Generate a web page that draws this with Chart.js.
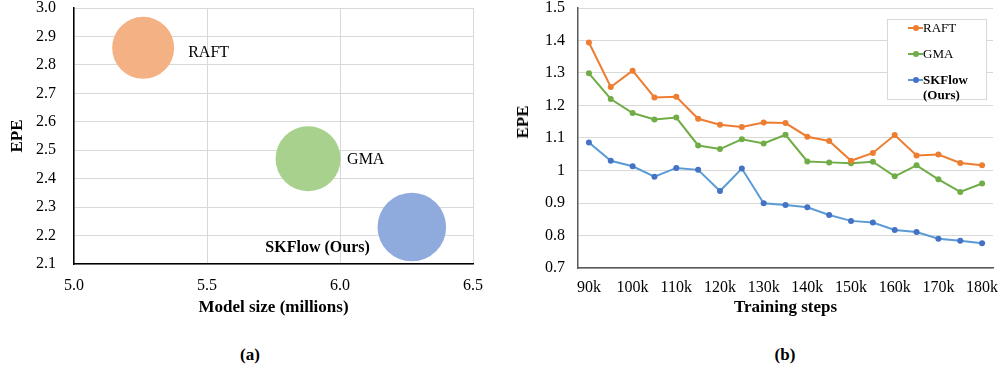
<!DOCTYPE html>
<html>
<head>
<meta charset="utf-8">
<script src="https://cdn.jsdelivr.net/npm/chart.js@4.4.1/dist/chart.umd.min.js"></script>
<style>
  html, body { margin: 0; padding: 0; background: #fff; }
  body { width: 1002px; height: 368px; position: relative; overflow: hidden; font-family: "Liberation Serif", "Times New Roman", serif; color: #000; }
  #wrapA { position: absolute; left: 0; top: 0; width: 500px; height: 330px; }
  #wrapB { position: absolute; left: 500px; top: 0; width: 502px; height: 330px; }
  .cap { position: absolute; top: 345px; font-weight: bold; font-size: 17px; line-height: 20px; width: 60px; margin-left: -30px; text-align: center; }
  #epeB { position: absolute; left: 523px; top: 122px; font-weight: bold; font-size: 17px; line-height: 20px; white-space: nowrap; transform: translate(-50%, -50%) rotate(-90deg); }
  #legend { position: absolute; left: 887px; top: 19px; width: 98px; height: 79px; border: 1px solid #d9d9d9; background: #fff; font-size: 13px; }
  .li { position: absolute; left: 20px; white-space: nowrap; line-height: 15px; }
  .mk { position: absolute; left: 0; width: 15px; height: 2px; top: 7px; }
  .mk i { position: absolute; left: 5px; top: -2px; width: 6px; height: 6px; border-radius: 50%; }
  .lt { position: absolute; left: 15px; top: 0; }
</style>
</head>
<body>
<div id="wrapA"><canvas id="chartA" width="500" height="330"></canvas></div>
<div id="wrapB"><canvas id="chartB" width="502" height="330"></canvas></div>
<div class="cap" style="left:250px">(a)</div>
<div class="cap" style="left:785px">(b)</div>
<div id="epeB">EPE</div>
<div id="legend"></div>
<script>
// ---------- Data: chart (a) ----------
const bubbleNames = ['RAFT', 'GMA', 'SKFlow (Ours)'];
const modelSizes = [5.26, 5.88, 6.27];      // millions
const bubbleEPE = [2.86, 2.47, 2.23];
const bubbleRadius = [31, 32.5, 34.3];
const bubbleColors = ['#F4B183', '#A9D18E', '#8FAADC'];

// ---------- Data: chart (b) ----------
const steps = ['90k','95k','100k','105k','110k','115k','120k','125k','130k','135k','140k','145k','150k','155k','160k','165k','170k','175k','180k'];
const xTickLabels = ['90k','100k','110k','120k','130k','140k','150k','160k','170k','180k'];
const raftEPE = [1.394,1.257,1.307,1.225,1.227,1.159,1.141,1.134,1.148,1.146,1.104,1.091,1.030,1.054,1.109,1.046,1.049,1.023,1.016];
const gmaEPE = [1.299,1.220,1.177,1.157,1.163,1.077,1.066,1.096,1.083,1.110,1.028,1.025,1.022,1.027,0.982,1.016,0.973,0.934,0.960];
const skflowEPE = [1.086,1.030,1.013,0.981,1.008,1.002,0.937,1.006,0.899,0.894,0.887,0.863,0.845,0.840,0.817,0.811,0.790,0.784,0.776];
const seriesNames = ['RAFT', 'GMA', 'SKFlow (Ours)'];

const FONT = '"Liberation Serif", "Times New Roman", serif';
Chart.defaults.font.family = FONT;
Chart.defaults.color = '#000';

// Bubble label plugin
const bubbleLabels = {
  id: 'bubbleLabels',
  afterDatasetsDraw(chart, args, opts) {
    const ctx = chart.ctx;
    const meta = chart.getDatasetMeta(0);
    ctx.save();
    meta.data.forEach((el, i) => {
      const o = opts.offsets[i];
      ctx.font = (o.bold ? 'bold ' : '') + '16px ' + FONT;
      ctx.fillStyle = '#000';
      ctx.textAlign = o.align;
      ctx.textBaseline = 'alphabetic';
      ctx.fillText(bubbleNames[i], el.x + o.dx, el.y + o.dy);
    });
    ctx.restore();
  }
};

function fixX(height) {
  return s => { s.height = height; s.paddingLeft = 0; s.paddingRight = 0; };
}
function fixY(width) {
  return s => { s.width = width; s.paddingTop = 8; s.paddingBottom = 0; };
}

new Chart(document.getElementById('chartA'), {
  type: 'bubble',
  data: {
    datasets: [{
      data: modelSizes.map((x, i) => ({ x: x, y: bubbleEPE[i], r: bubbleRadius[i] })),
      backgroundColor: bubbleColors,
      borderWidth: 0,
      hoverBorderWidth: 0,
      clip: false
    }]
  },
  options: {
    responsive: false,
    animation: false,
    events: [],
    layout: { autoPadding: false, padding: { left: 0, right: 27, top: 0, bottom: 0 } },
    plugins: {
      legend: { display: false },
      tooltip: { enabled: false },
      bubbleLabels: {
        offsets: [
          { dx: 45, dy: 9, align: 'left', bold: false },
          { dx: 39, dy: 5, align: 'left', bold: false },
          { dx: -42, dy: 25, align: 'right', bold: true }
        ]
      }
    },
    scales: {
      x: {
        type: 'linear', min: 5.0, max: 6.5,
        ticks: { stepSize: 0.5, padding: 14, font: { size: 16, lineHeight: 1 }, color: '#000',
                 callback: v => Number(v).toFixed(1) },
        grid: { color: '#d9d9d9', drawTicks: false },
        border: { display: true, color: '#000', width: 1.5 },
        title: { display: true, text: 'Model size (millions)', font: { size: 17, weight: 'bold' }, color: '#000', padding: { top: 0, bottom: 12 } },
        afterFit: fixX(66)
      },
      y: {
        type: 'linear', min: 2.1, max: 3.0,
        ticks: { stepSize: 0.1, padding: 18, font: { size: 16, lineHeight: 1 }, color: '#000',
                 callback: v => Number(v).toFixed(1) },
        grid: { color: '#d9d9d9', drawTicks: false },
        border: { display: true, color: '#000', width: 1.5 },
        title: { display: true, text: 'EPE', font: { size: 17, weight: 'bold' }, color: '#000', padding: { top: 7, bottom: 0 } },
        afterFit: fixY(74)
      }
    }
  },
  plugins: [bubbleLabels]
});

const lineColors = ['#ED7D31', '#70AD47', '#5B9BD5'];
const pointColors = ['#ED7D31', '#70AD47', '#4472C4'];
const seriesData = [raftEPE, gmaEPE, skflowEPE];

new Chart(document.getElementById('chartB'), {
  type: 'line',
  data: {
    labels: steps,
    datasets: seriesData.map((d, i) => ({
      label: seriesNames[i],
      data: d,
      borderColor: lineColors[i],
      backgroundColor: pointColors[i],
      pointBackgroundColor: pointColors[i],
      pointBorderWidth: 0,
      pointRadius: 3,
      borderWidth: 2,
      tension: 0,
      fill: false
    }))
  },
  options: {
    responsive: false,
    animation: false,
    events: [],
    layout: { autoPadding: false, padding: { left: 0, right: 9, top: 0, bottom: 0 } },
    plugins: { legend: { display: false }, tooltip: { enabled: false } },
    scales: {
      x: {
        type: 'category', offset: true,
        ticks: { autoSkip: false, maxRotation: 0, padding: 12, font: { size: 16, lineHeight: 1 }, color: '#000',
                 callback: function (v) { const l = this.getLabelForValue(v); return xTickLabels.includes(l) ? l : ''; } },
        grid: { display: false, drawTicks: false },
        border: { display: true, color: '#595959', width: 1.5 },
        title: { display: true, text: 'Training steps', font: { size: 17, weight: 'bold' }, color: '#000', padding: { top: 0, bottom: 12 } },
        afterFit: fixX(62)
      },
      y: {
        type: 'linear', min: 0.7, max: 1.5,
        ticks: { stepSize: 0.1, padding: 13, font: { size: 16, lineHeight: 1 }, color: '#000',
                 callback: v => String(Math.round(v * 10) / 10) },
        grid: { color: '#d9d9d9', drawTicks: false },
        border: { display: true, color: '#595959', width: 1.5 },
        title: { display: false },
        afterFit: fixY(78)
      }
    }
  }
});

// HTML legend
const legend = document.getElementById('legend');
const tops = [0, 26, 52];
seriesNames.forEach((n, i) => {
  const d = document.createElement('div');
  d.className = 'li';
  d.style.top = tops[i] + 'px';
  const mk = document.createElement('div');
  mk.className = 'mk';
  mk.style.background = lineColors[i];
  const dot = document.createElement('i');
  dot.style.background = pointColors[i];
  mk.appendChild(dot);
  d.appendChild(mk);
  const t = document.createElement('div');
  t.className = 'lt';
  if (i === 2) {
    t.style.fontWeight = 'bold';
    t.innerHTML = 'SKFlow<br>(Ours)';
  } else {
    t.textContent = n;
  }
  d.appendChild(t);
  legend.appendChild(d);
});
</script>
</body>
</html>
